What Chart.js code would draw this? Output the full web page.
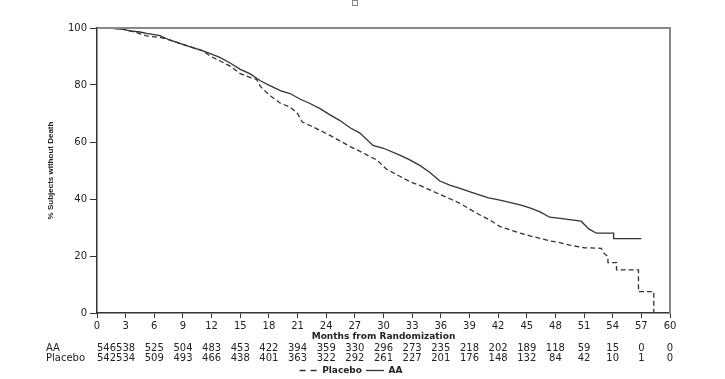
<!DOCTYPE html>
<html>
<head>
<meta charset="utf-8">
<script src="https://cdn.jsdelivr.net/npm/chart.js@4.4.1/dist/chart.umd.min.js"></script>
<style>
    html, body { margin: 0; padding: 0; background: #fff; }
    #chartSurvivalDiv { width: 725px; height: 379px; }
</style>
</head>
<body>
<div id="chartSurvivalDiv"><canvas id="chartSurvival"></canvas></div>
<script>
// AA arm, Kaplan-Meier estimate (months, % without death)
const aaMonths = [0, 1, 2, 2.7, 3.5, 4.5, 5.2, 6.6, 7.6, 8.5, 9.7, 11.1, 11.8, 12.8, 13.9, 15, 16, 17.1, 18.1, 19.2,
    20.2, 21.3, 22.3, 23.4, 24.4, 25.4, 26.5, 27.5, 28.9, 30, 31.7, 32.7, 33.8, 34.8, 35.9, 37, 38, 39, 40.1, 41,
    42.2, 43.2, 44.3, 45.4, 46.4, 47.4, 48.5, 49.5, 50.7, 51.5, 52.3, 54.1, 54.1, 57];
const aaSurvival = [100, 100, 99.8, 99.5, 99, 98.6, 98.1, 97.3, 95.8, 94.8, 93.5, 92, 91.1, 89.8, 87.8, 85.5, 84, 81.5, 79.8, 78,
    77, 75, 73.5, 71.6, 69.5, 67.6, 65, 63.2, 58.8, 57.8, 55.4, 53.8, 51.8, 49.5, 46.3, 44.8, 43.7, 42.6, 41.4, 40.4,
    39.6, 38.8, 37.9, 36.8, 35.5, 33.6, 33.2, 32.8, 32.2, 29.5, 28, 28, 26.1, 26.1];

// Placebo arm
const placeboMonths = [0, 1, 2, 3, 4, 5.2, 6.6, 7.6, 8.5, 9.7, 11.1, 11.8, 12.8, 13.9, 15, 16, 16.7, 17.1, 18.1, 19.2,
    20.2, 21, 21.5, 22.5, 23.4, 24.4, 25.4, 26.5, 27.5, 28.5, 29.3, 30.3, 31.7, 32.8, 33.8, 34.8, 35.9, 37, 38, 39,
    40.1, 41.2, 42.2, 43.2, 44.3, 45.4, 46.4, 47.4, 48.3, 49.5, 51, 52.8, 53.1, 53.5, 53.5, 54.4, 54.4, 56.7, 56.7,
    58.3, 58.3];
const placeboSurvival = [100, 100, 99.8, 99.4, 98.5, 97.2, 96.7, 95.8, 94.8, 93.5, 92, 90.2, 88.6, 86.7, 84, 82.7, 82, 79.5, 76.3, 73.6,
    72.3, 70, 67, 65.5, 64, 62.3, 60.5, 58.4, 56.8, 55, 53.7, 50.5, 48, 46, 44.8, 43.3, 41.6, 40, 38.5, 36.5,
    34.4, 32.5, 30.3, 29.2, 28, 27, 26.2, 25.3, 24.8, 23.8, 22.9, 22.7, 20.9, 19.8, 17.7, 17.7, 15.1, 15.1, 7.5,
    7.5, 0];

// number of subjects at risk
const riskMonths = [0, 3, 6, 9, 12, 15, 18, 21, 24, 27, 30, 33, 36, 39, 42, 45, 48, 51, 54, 57, 60];
const aaAtRisk = [546, 538, 525, 504, 483, 453, 422, 394, 359, 330, 296, 273, 235, 218, 202, 189, 118, 59, 15, 0, 0];
const placeboAtRisk = [542, 534, 509, 493, 466, 438, 401, 363, 322, 292, 261, 227, 201, 176, 148, 132, 84, 42, 10, 1, 0];

const axisFont = { family: 'DejaVu Sans', size: 10 };

function toPoints(xs, ys) {
    let points = [];
    xs.forEach((x, i) => {
        points.push({ x: x, y: ys[i] });
    });
    return points;
}

// frame, at-risk table and the little square up top
const extrasPlugin = {
    id: 'extras',
    afterDraw(chart) {
        const ctx = chart.ctx;
        const area = chart.chartArea;
        const xScale = chart.scales.x;

        ctx.save();
        ctx.strokeStyle = '#888';
        ctx.lineWidth = 2;
        ctx.beginPath();
        ctx.moveTo(area.left, area.top);
        ctx.lineTo(area.right, area.top);
        ctx.lineTo(area.right, area.bottom);
        ctx.stroke();

        ctx.lineWidth = 1;
        ctx.strokeRect(352.5, 0.5, 5, 5);

        ctx.fillStyle = '#222';
        ctx.font = '10px "DejaVu Sans"';
        ctx.textBaseline = 'middle';
        ctx.textAlign = 'left';
        ctx.fillText('AA', 46, area.bottom + 35);
        ctx.fillText('Placebo', 46, area.bottom + 45);

        riskMonths.forEach((m, i) => {
            let px = xScale.getPixelForValue(m);
            ctx.textAlign = i === 0 ? 'left' : 'center';
            ctx.fillText(String(aaAtRisk[i]), px, area.bottom + 35);
            ctx.fillText(String(placeboAtRisk[i]), px, area.bottom + 45);
        });
        ctx.restore();
    }
};

function ChartSurvival() {
    var ctx = document.getElementById("chartSurvival");

    const survivalChart = new Chart(ctx, {
        type: 'line',
        data: {
            datasets: [
                {
                    label: 'Placebo',
                    data: toPoints(placeboMonths, placeboSurvival),
                    borderColor: '#333',
                    backgroundColor: '#333',
                    borderWidth: 1.3,
                    borderDash: [5, 3],
                    pointRadius: 0,
                    tension: 0
                },
                {
                    label: 'AA',
                    data: toPoints(aaMonths, aaSurvival),
                    borderColor: '#333',
                    backgroundColor: '#333',
                    borderWidth: 1.3,
                    pointRadius: 0,
                    tension: 0
                }
            ]
        },
        options: {
            responsive: true,
            maintainAspectRatio: false,
            animation: false,
            layout: { padding: { top: 28, right: 55, bottom: -6, left: 32 } },
            plugins: {
                tooltip: { enabled: false },
                legend: {
                    position: 'bottom',
                    labels: {
                        usePointStyle: true,
                        pointStyle: 'line',
                        pointStyleWidth: 18,
                        padding: 4,
                        color: '#222',
                        font: { family: 'DejaVu Sans', size: 9, weight: 'bold' },
                        // point style drops the dataset dash, put it back
                        generateLabels: (chart) => {
                            let items = Chart.defaults.plugins.legend.labels.generateLabels(chart);
                            items.forEach(item => {
                                item.lineDash = item.datasetIndex === 0 ? [6, 5] : [];
                            });
                            return items;
                        }
                    }
                }
            },
            scales: {
                x: {
                    type: 'linear',
                    min: 0,
                    max: 60,
                    afterFit: (scale) => { scale.height = 49; },
                    ticks: { stepSize: 3, color: '#222', font: axisFont, padding: 2, maxRotation: 0 },
                    grid: { drawOnChartArea: false, drawTicks: true, tickLength: 5, color: '#333' },
                    border: { color: '#333', width: 1.5 },
                    title: {
                        display: true,
                        text: 'Months from Randomization',
                        color: '#222',
                        font: { family: 'DejaVu Sans', size: 9, weight: 'bold' },
                        padding: { top: 0, bottom: 20 }
                    }
                },
                y: {
                    min: 0,
                    max: 100,
                    afterFit: (scale) => { scale.width = 65; },
                    ticks: { stepSize: 20, color: '#222', font: axisFont, padding: 3 },
                    grid: { drawOnChartArea: false, drawTicks: true, tickLength: 7, color: '#333' },
                    border: { color: '#333', width: 1.5 },
                    title: {
                        display: true,
                        text: '% Subjects without Death',
                        color: '#222',
                        font: { family: 'Liberation Sans', size: 8, weight: 'bold' },
                        padding: { top: 14, bottom: 0 }
                    }
                }
            }
        },
        plugins: [extrasPlugin]
    });
}

ChartSurvival();
</script>
</body>
</html>
